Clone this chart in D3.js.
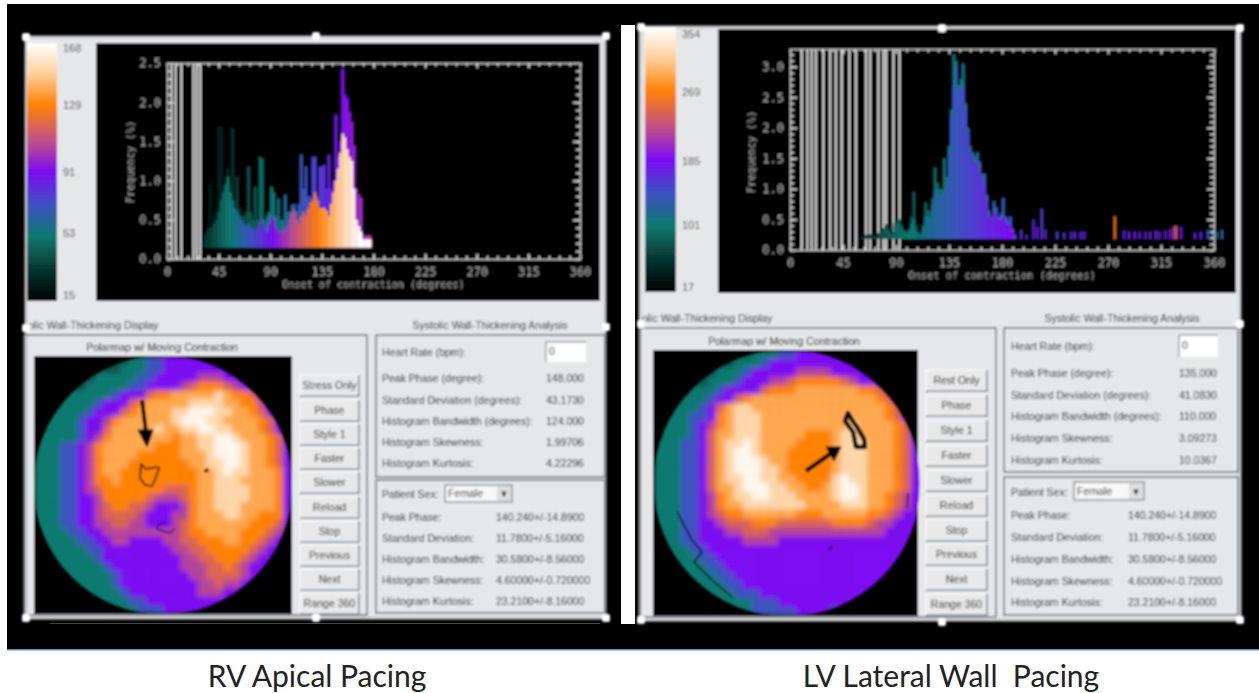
<!DOCTYPE html>
<meta charset="utf-8">
<head>
<script src="https://d3js.org/d3.v7.min.js"></script>
<style>
  body { margin: 0; background: #fff; }
  svg { display: block; }
  text { font-family: "Liberation Sans", sans-serif; }
  .idl text { font-family: "DejaVu Sans Mono", monospace; fill: #aaa; }
</style>
</head>
<body>
<div id="my_dataviz"></div>
<script>
// colour bar: position 0..1 -> colour, same for both panels
const barStops = [0, 0.12, 0.25, 0.37, 0.5, 0.62, 0.76, 0.88, 1]
const barColors = ["#000000", "#06352f", "#0a7a70", "#3d52c0", "#7d0cf2", "#c0508a", "#ff8205", "#ffcf9a", "#ffffff"]

const leftBarLabels = ["168", "129", "91", "53", "15"]
const rightBarLabels = ["354", "269", "185", "101", "17"]
const leftBarDomain = [15, 168]
const rightBarDomain = [17, 354]

const degreeTicks = [0, 45, 90, 135, 180, 225, 270, 315, 360]
const leftFreqTicks = [0, 0.5, 1, 1.5, 2, 2.5]
const rightFreqTicks = [0, 0.5, 1, 1.5, 2, 2.5, 3]

// histograms, 2 degree bins
const leftBins = d3.range(30, 178, 2)
const leftBody = [.2,.3,.35,.4,.4,.45,.5,.6,.75,.85,.95,1.05,.85,.75,.65,.6,.55,.5,.45,.42,.45,.4,.38,.35,.4,.45,.5,.4,.35,.45,.55,.5,.4,.35,.35,.32,.38,.42,.5,.6,.62,.5,.45,.55,.6,.55,.65,.72,.75,.85,.75,.65,.65,.65,.62,.55,.7,.85,1,1.15,1.35,1.6,1.55,1.4,1.3,1.25,.9,.5,.42,.35,.25,.25,.25,.25]
const leftSpike = [.3,.35,.45,.95,1,.55,.65,1.69,1.69,.9,1,1.15,.95,1.67,.75,1.05,.65,.55,.55,.6,1.18,.6,.5,.92,.5,1.3,1.28,.5,.55,.6,.92,.85,.55,.77,.5,.5,.82,.6,.6,.69,.7,.6,.7,1.33,.9,1.18,.8,.8,1.3,1.3,.8,1.18,1.18,1.2,.9,1.33,.9,1,1.84,1.3,1.5,2.43,2.1,2.05,1.88,1.75,1.45,.9,.82,.78,.3,.3,.3,.3]
const leftLines = [4, 7.5, 12.5, 23, 26, 29]

const rightBins = d3.range(60, 192, 2)
const rightBody = [.2,.2,.22,.24,.22,.22,.2,.25,.3,.33,.38,.34,.28,.25,.38,.44,.44,.35,.3,.28,.3,.42,.5,.3,.24,.22,.35,.55,.55,.55,.75,.95,1,.9,.9,.95,1.1,1.6,2.2,2.7,3,2.6,2.6,2.7,2.3,1.95,1.6,1.5,1.45,1.45,1.3,1.2,1.05,.8,.55,.5,.6,.6,.5,.5,.55,.45,.42,.4,.3,.2]
const rightSpike = [.22,.22,.25,.26,.25,.24,.22,.28,.34,.36,.42,.4,.3,.3,.45,.5,.5,.4,.32,.32,.35,.55,.95,.4,.3,.28,.42,.78,.65,.65,.85,1.35,1.1,1,1,1.5,1.2,1.7,2.3,3.2,3.1,2.7,2.8,3.05,2.4,2,1.7,1.6,1.55,1.6,1.45,1.25,1.25,.9,.65,.55,.8,.7,.55,.6,.85,.55,.5,.55,.35,.25]
const rightLines = [10, 14.8, 18.4, 22, 28.3, 34, 39, 44, 50.4, 56, 64.6, 68, 75, 79.3, 81.6, 87.8, 93]

// the isolated short bars past 190 degrees
const stickDeg = [195.5,200,206,209,213,216,226,232,238,241,246,249,275,283,287,292,296,301,305,310,313,318,322,325,327,331,343,348,354,358,362,366]
const stickVal = [.33,.25,.5,.38,.68,.33,.3,.28,.3,.3,.3,.3,.55,.32,.3,.3,.3,.3,.3,.32,.3,.32,.34,.38,.4,.38,.28,.3,.33,.33,.3,.33]
const stickTone = [.42,.45,.45,.48,.4,.45,.4,.42,.44,.44,.46,.46,.72,.46,.44,.46,.44,.46,.44,.46,.44,.46,.5,.6,.68,.5,.46,.46,.35,.35,.3,.32]

// polar maps, one digit per cell, see mapTones
const mapTones = [.17, .25, .37, .5, .6, .68, .76, .82, .9, .98]
const leftMap = [
"00000 00000 01122 33333 33222 22211",
"00000 00000 11122 33333 33332 22111",
"00000 00111 11223 33334 44333 32221",
"00000 01111 12233 33456 66543 33322",
"00011 11112 33356 67777 78766 53333",
"00011 11233 35677 77788 88776 64333",
"00111 12333 56777 78899 98877 65333",
"01111 23346 77777 78999 88777 76533",
"01111 23357 77778 77889 98877 76533",
"11111 23467 77777 76778 89987 77653",
"11122 34677 77776 66778 89998 77653",
"11122 34677 77666 66777 89998 77653",
"11122 34677 76666 66677 88998 77653",
"11122 34677 66666 66667 78988 77763",
"11122 34667 66666 66667 78887 77763",
"11122 34566 66666 55567 78888 77763",
"11122 33466 66654 44567 78888 77763",
"11122 33456 65543 33467 78887 77763",
"11122 33455 55433 34467 77887 76663",
"11122 33445 54433 34567 77777 66653",
"11112 23344 44444 44566 77776 66543",
"01111 22334 43333 44556 66776 65433",
"01111 12233 33333 34455 66666 54333",
"00111 11233 33333 33445 56665 43333",
"00111 11123 33333 33444 55654 33333",
"00011 11112 33333 33344 55554 33332",
"00001 11112 33333 33334 45443 33322",
"00000 11111 23333 33334 44333 33222",
"00000 00111 12233 33333 33333 22211",
"00000 00001 11222 33333 33322 21111"]
const rightMap = [
"00000 00000 01112 23333 33222 21110",
"00000 00001 11233 33333 33322 21110",
"00000 00111 23333 34444 33333 32211",
"00000 01112 33344 56666 65433 33322",
"00001 11233 33566 67777 77766 54333",
"00011 12335 67777 77777 77777 65333",
"00111 23578 87777 77777 77777 76533",
"01112 23678 88777 77777 77777 76533",
"01112 34678 88777 77777 77877 77653",
"01112 35778 88777 77666 78877 77653",
"11122 35788 98777 76666 78887 77653",
"11122 35789 98777 66666 78887 77653",
"11122 35789 99877 66666 78887 77653",
"11122 35789 99887 66666 78887 77653",
"11122 35788 99887 76666 89887 77653",
"11122 35778 99988 77667 89987 77653",
"11122 34678 89988 87777 89987 76543",
"11122 34677 88888 88777 78887 76543",
"11122 34566 77777 76667 77776 65433",
"11122 33455 56665 55555 66665 44333",
"11122 33344 55544 44444 44444 43333",
"11122 33333 44443 33333 33333 33332",
"01112 23333 33333 33333 33333 33332",
"01111 22333 33333 33333 33333 33322",
"01111 12233 33333 33333 33333 33322",
"00111 11223 33333 33333 33333 33222",
"00011 11122 33333 33333 33333 32221",
"00001 11112 22333 33333 33333 22211",
"00000 01111 12223 33333 33332 22111",
"00000 00011 12222 23333 22222 11111"]

const buttonsLeft = ["Stress Only", "Phase", "Style 1", "Faster", "Slower", "Reload", "Stop", "Previous", "Next", "Range 360"]
const buttonsRight = ["Rest Only", "Phase", "Style 1", "Faster", "Slower", "Reload", "Stop", "Previous", "Next", "Range 360"]

const analysisLabels = ["Peak Phase (degree):", "Standard Deviation (degrees):", "Histogram Bandwidth (degrees):", "Histogram Skewness:", "Histogram Kurtosis:"]
const analysisLeft = ["148.000", "43.1730", "124.000", "1.99706", "4.22296"]
const analysisRight = ["135.000", "41.0830", "110.000", "3.09273", "10.0367"]
const normalLabels = ["Peak Phase:", "Standard Deviation:", "Histogram Bandwidth:", "Histogram Skewness:", "Histogram Kurtosis:"]
const normalValues = ["140.240+/-14.8900", "11.7800+/-5.16000", "30.5800+/-8.56000", "4.60000+/-0.720000", "23.2100+/-8.16000"]

const colorAt = d3.scaleLinear().domain(barStops).range(barColors).clamp(true)

const svg = d3.select("#my_dataviz").append("svg")
  .attr("width", 1259)
  .attr("height", 693)

const defs = svg.append("defs")
defs.append("filter").attr("id", "soft")
  .attr("filterUnits", "userSpaceOnUse")
  .attr("x", 0).attr("y", 0).attr("width", 1259).attr("height", 693)
  .append("feGaussianBlur").attr("stdDeviation", 0.85)
defs.append("filter").attr("id", "softer")
  .attr("x", "-5%").attr("y", "-5%").attr("width", "110%").attr("height", "110%")
  .append("feGaussianBlur").attr("stdDeviation", 2.8)
const fade = defs.append("linearGradient").attr("id", "barFade")
  .attr("x1", 0).attr("y1", 1).attr("x2", 0).attr("y2", 0)
barStops.forEach((s, i) => fade.append("stop").attr("offset", s).attr("stop-color", barColors[i]))

// white page with the black picture area
svg.append("rect").attr("x", 7).attr("y", 4).attr("width", 1252).attr("height", 645).attr("fill", "#000")
svg.append("rect").attr("x", 7).attr("y", 649).attr("width", 1252).attr("height", 1.5).attr("fill", "#5b8fc0")
svg.append("rect").attr("x", 621).attr("y", 25).attr("width", 14).attr("height", 599).attr("fill", "#fff")
svg.append("rect").attr("x", 50).attr("y", 623).attr("width", 550).attr("height", 1).attr("fill", "#444")

const root = svg.append("g").attr("filter", "url(#soft)")

function drawPanel(p) {
  const g = root.append("g")

  g.append("rect")
    .attr("x", p.panel[0]).attr("y", p.panel[1])
    .attr("width", p.panel[2] - p.panel[0]).attr("height", p.panel[3] - p.panel[1])
    .attr("fill", "#e6e7e9").attr("stroke", "#c8c8c8").attr("stroke-width", 3)

  // colour bar
  g.append("rect").attr("x", p.bar[0]).attr("y", p.bar[1])
    .attr("width", p.bar[2] - p.bar[0]).attr("height", p.bar[3] - p.bar[1])
    .attr("fill", "url(#barFade)")
  g.selectAll(".barlabel").data(p.barLabels).enter().append("text")
    .attr("x", p.bar[2] + 6)
    .attr("y", (d, i) => p.barLabelY[i] + 4)
    .attr("font-size", 11).attr("fill", "#444")
    .text(d => d)

  // plot window
  g.append("rect").attr("x", p.plot[0]).attr("y", p.plot[1])
    .attr("width", p.plot[2] - p.plot[0]).attr("height", p.plot[3] - p.plot[1])
    .attr("fill", "#000")

  const x = d3.scaleLinear().domain([0, 360]).range(p.xRange)
  const y = d3.scaleLinear().domain([0, p.yMax]).range(p.yRange)
  const bw = x(2) - x(0)
  const tone = d3.scaleLinear().domain([p.barDomain[0], p.barDomain[1]]).range([0, 1])
  const chart = g.append("g").attr("class", "idl")

  chart.selectAll(".vline").data(p.lines).enter().append("line")
    .attr("x1", d => x(d)).attr("x2", d => x(d))
    .attr("y1", p.yRange[1]).attr("y2", p.yRange[0])
    .attr("stroke", "#fff").attr("stroke-width", 1.6)

  // thin dark spike behind, bright body on top
  chart.selectAll(".spike").data(p.bins).enter().append("rect")
    .attr("x", d => x(d)).attr("width", bw + 0.3)
    .attr("y", (d, i) => y(p.spike[i]))
    .attr("height", (d, i) => y(p.base) - y(p.spike[i]))
    .attr("fill", d => colorAt(tone(d * p.spikeFactor)))
  chart.selectAll(".body").data(p.bins).enter().append("rect")
    .attr("x", d => x(d)).attr("width", bw + 0.3)
    .attr("y", (d, i) => y(p.body[i]))
    .attr("height", (d, i) => y(p.base) - y(p.body[i]))
    .attr("fill", d => colorAt(tone(d)))
  if (p.stickDeg) {
    chart.selectAll(".stick").data(p.stickDeg).enter().append("rect")
      .attr("x", d => x(d)).attr("width", bw * 0.8)
      .attr("y", (d, i) => y(p.stickVal[i]))
      .attr("height", (d, i) => y(p.base) - y(p.stickVal[i]))
      .attr("fill", (d, i) => colorAt(p.stickTone[i]))
  }

  // box with ticks on all four sides
  const xMinor = d3.range(0, 361, 9)
  const yMinor = d3.range(0, p.yMax, 0.1)
  const style = s => {
    s.selectAll("path").attr("stroke", "#ccc")
    s.selectAll("line").attr("stroke", "#ddd").attr("stroke-width", 1.6)
    s.selectAll("text").attr("font-size", 12).attr("fill", "#aaa")
  }
  chart.append("g").attr("transform", `translate(0,${p.yRange[0]})`)
    .call(d3.axisBottom(x).tickValues(degreeTicks).tickSize(-5).tickPadding(8).tickFormat(d3.format("d"))).call(style)
  chart.append("g").attr("transform", `translate(0,${p.yRange[0]})`)
    .call(d3.axisBottom(x).tickValues(xMinor).tickSize(-3).tickFormat("")).call(style)
  chart.append("g").attr("transform", `translate(0,${p.yRange[1]})`)
    .call(d3.axisTop(x).tickValues(degreeTicks).tickSize(-5).tickFormat("")).call(style)
  chart.append("g").attr("transform", `translate(0,${p.yRange[1]})`)
    .call(d3.axisTop(x).tickValues(xMinor).tickSize(-3).tickFormat("")).call(style)
  chart.append("g").attr("transform", `translate(${p.xRange[0]},0)`)
    .call(d3.axisLeft(y).tickValues(p.yTicks).tickSize(-7).tickPadding(6).tickFormat(d3.format(".1f"))).call(style)
  chart.append("g").attr("transform", `translate(${p.xRange[0]},0)`)
    .call(d3.axisLeft(y).tickValues(yMinor).tickSize(-4).tickFormat("")).call(style)
  chart.append("g").attr("transform", `translate(${p.xRange[1]},0)`)
    .call(d3.axisRight(y).tickValues(p.yTicks).tickSize(-7).tickFormat("")).call(style)
  chart.append("g").attr("transform", `translate(${p.xRange[1]},0)`)
    .call(d3.axisRight(y).tickValues(yMinor).tickSize(-4).tickFormat("")).call(style)

  chart.append("text")
    .attr("x", (p.xRange[0] + p.xRange[1]) / 2).attr("y", p.yRange[0] + 29)
    .attr("text-anchor", "middle").attr("font-size", p.titleSize)
    .text("Onset of contraction (degrees)")
  chart.append("text")
    .attr("transform", `translate(${p.yLabelX},${p.yLabelY}) rotate(-90)`)
    .attr("text-anchor", "middle").attr("font-size", 10.5)
    .text("Frequency (%)")

  // section headings and group boxes
  g.append("text").attr("x", p.panel[0] + 2).attr("y", p.headY).attr("font-size", 10.5).attr("fill", "#222")
    .text("olic Wall-Thickening Display")
  g.append("text").attr("x", p.headRightX).attr("y", p.headY).attr("text-anchor", "middle").attr("font-size", 10.5).attr("fill", "#222")
    .text("Systolic Wall-Thickening Analysis")
  p.boxes.forEach(b => {
    g.append("rect").attr("x", b[0]).attr("y", b[1]).attr("width", b[2] - b[0]).attr("height", b[3] - b[1])
      .attr("fill", "none").attr("stroke", "#6f7478").attr("stroke-width", 1.6)
  })
  g.append("text").attr("x", p.mapTitleX).attr("y", p.mapTitleY).attr("text-anchor", "middle").attr("font-size", 10.5).attr("fill", "#111")
    .text("Polarmap w/ Moving Contraction")

  // polar map
  const m = p.map
  g.append("rect").attr("x", m.x0).attr("y", m.y0).attr("width", m.x1 - m.x0).attr("height", m.y1 - m.y0).attr("fill", "#000")
  const clipId = "disc" + p.id
  defs.append("clipPath").attr("id", clipId).append("circle").attr("cx", m.cx).attr("cy", m.cy).attr("r", m.r)
  const col = d3.scaleBand().domain(d3.range(30)).range([m.cx - m.r, m.cx + m.r])
  const row = d3.scaleBand().domain(d3.range(30)).range([m.cy - m.r, m.cy + m.r])
  const cellData = []
  p.cells.forEach((s, r) => s.replace(/ /g, "").split("").forEach((c, i) => cellData.push({ r: r, c: i, v: +c })))
  g.append("g").attr("clip-path", `url(#${clipId})`)
    .append("g").attr("filter", "url(#softer)")
    .selectAll("rect").data(cellData).enter().append("rect")
    .attr("x", d => col(d.c)).attr("y", d => row(d.r))
    .attr("width", col.bandwidth() + 0.5).attr("height", row.bandwidth() + 0.5)
    .attr("fill", d => colorAt(mapTones[d.v]))

  // hand drawn marks on the map
  const lineGen = d3.line()
  p.marks.forEach(k => {
    g.append("path").attr("d", lineGen(k.pts) + (k.close ? "Z" : ""))
      .attr("fill", k.fill || "none").attr("stroke", k.color || "#000").attr("stroke-width", k.w)
      .attr("stroke-linejoin", "round")
  })

  // buttons
  const btn = g.selectAll(".btn").data(p.buttons).enter().append("g")
    .attr("transform", (d, i) => `translate(${p.btnX},${p.btnY[i] - 10})`)
  btn.append("rect").attr("width", p.btnW).attr("height", 20).attr("fill", "#e8e8e8")
    .attr("stroke", "#fff").attr("stroke-width", 1)
  btn.append("path").attr("d", `M0,21H${p.btnW}V0`).attr("fill", "none").attr("stroke", "#80858a").attr("stroke-width", 1.6)
  btn.append("text").attr("x", p.btnW / 2).attr("y", 14).attr("text-anchor", "middle")
    .attr("font-size", 10.5).attr("fill", "#222").text(d => d)

  // analysis box
  g.append("text").attr("x", p.labelX).attr("y", p.heartY + 4).attr("font-size", 10.5).attr("fill", "#222").text("Heart Rate (bpm):")
  g.append("rect").attr("x", p.input[0]).attr("y", p.input[1]).attr("width", p.input[2] - p.input[0]).attr("height", p.input[3] - p.input[1])
    .attr("fill", "#fff")
  g.append("path").attr("d", `M${p.input[0]},${p.input[3]}V${p.input[1]}H${p.input[2]}`).attr("fill", "none").attr("stroke", "#777")
  g.append("text").attr("x", p.input[0] + 3).attr("y", p.heartY + 3).attr("font-size", 10.5).attr("fill", "#222").text("0")
  g.selectAll(".alabel").data(analysisLabels).enter().append("text")
    .attr("x", p.labelX).attr("y", (d, i) => p.analysisY[i] + 4)
    .attr("font-size", 10.5).attr("fill", "#222").text(d => d)
  g.selectAll(".avalue").data(p.analysis).enter().append("text")
    .attr("x", p.input[0]).attr("y", (d, i) => p.analysisY[i] + 4)
    .attr("font-size", 10.5).attr("fill", "#222").text(d => d)

  // normal limits box
  g.append("text").attr("x", p.labelX).attr("y", p.sexY + 4).attr("font-size", 10.5).attr("fill", "#222").text("Patient Sex:")
  g.append("rect").attr("x", p.select[0]).attr("y", p.select[1]).attr("width", p.select[2] - p.select[0]).attr("height", p.select[3] - p.select[1])
    .attr("fill", "#f7f7f7").attr("stroke", "#666")
  g.append("text").attr("x", p.select[0] + 3).attr("y", p.sexY + 3).attr("font-size", 10.5).attr("fill", "#222").text("Female")
  g.append("rect").attr("x", p.select[2] - 15).attr("y", p.select[1] + 1).attr("width", 14).attr("height", p.select[3] - p.select[1] - 2).attr("fill", "#ddd")
  g.append("text").attr("x", p.select[2] - 8).attr("y", p.sexY + 3).attr("text-anchor", "middle").attr("font-size", 9).attr("fill", "#000").text("▼")
  g.selectAll(".nlabel").data(normalLabels).enter().append("text")
    .attr("x", p.labelX).attr("y", (d, i) => p.normalY[i] + 4)
    .attr("font-size", 10.5).attr("fill", "#222").text(d => d)
  g.selectAll(".nvalue").data(normalValues).enter().append("text")
    .attr("x", p.normalX).attr("y", (d, i) => p.normalY[i] + 4)
    .attr("font-size", 10.5).attr("fill", "#222").text(d => d)

  // selection handles
  g.selectAll(".handle").data(p.handles).enter().append("rect")
    .attr("x", d => d[0] - 4).attr("y", d => d[1] - 4).attr("width", 8).attr("height", 8)
    .attr("rx", 2).attr("fill", "#fff")
}

drawPanel({
  id: "L",
  panel: [26, 37, 605, 618],
  bar: [27, 43, 57, 301],
  barLabels: leftBarLabels, barLabelY: [48, 105, 172, 233, 295], barDomain: leftBarDomain,
  plot: [96, 43, 600, 301],
  xRange: [167, 580], yRange: [259, 63], yMax: 2.5, yTicks: leftFreqTicks, base: 0.145,
  bins: leftBins, body: leftBody, spike: leftSpike, lines: leftLines, spikeFactor: 0.6,
  titleSize: 10.1, yLabelX: 134, yLabelY: 162,
  headY: 329, headRightX: 490,
  boxes: [[24, 335, 367, 615], [376, 335, 605, 477], [376, 480, 605, 613]],
  mapTitleX: 162, mapTitleY: 351,
  map: { x0: 34, y0: 356, x1: 292, y1: 614, cx: 163, cy: 485, r: 129 },
  cells: leftMap,
  marks: [
    { pts: [[142, 400], [146, 432]], w: 4 },
    { pts: [[138, 430], [153, 430], [147, 447]], w: 1, close: true, fill: "#000" },
    { pts: [[141, 464], [146, 469], [157, 467], [159, 468], [155, 480], [152, 486], [145, 485], [140, 478]], w: 1.6, close: true },
    { pts: [[166, 522], [158, 525], [157, 529], [163, 531], [170, 533], [174, 529]], w: 1.4, color: "#3a0a70" },
    { pts: [[206, 469], [207, 472]], w: 4 }
  ],
  buttons: buttonsLeft, btnX: 300, btnW: 59, btnY: [385, 410, 434, 458, 482, 507, 531, 555, 579, 603],
  labelX: 382, heartY: 352, input: [546, 342, 586, 362],
  analysis: analysisLeft, analysisY: [378, 400, 421, 442, 463],
  sexY: 494, select: [445, 485, 512, 502],
  normalX: 496, normalY: [517, 538, 559, 580, 601],
  handles: [[26, 37], [316, 36], [606, 36], [26, 328], [606, 327], [26, 618], [316, 618], [606, 618]]
})

drawPanel({
  id: "R",
  panel: [640, 27, 1240, 620],
  bar: [645, 27, 676, 292],
  barLabels: rightBarLabels, barLabelY: [34, 92, 161, 225, 287], barDomain: rightBarDomain,
  plot: [718, 29, 1236, 293],
  xRange: [790, 1214], yRange: [250, 49], yMax: 3.29, yTicks: rightFreqTicks, base: 0.18,
  bins: rightBins, body: rightBody, spike: rightSpike, lines: rightLines, spikeFactor: 0.75,
  stickDeg: stickDeg, stickVal: stickVal, stickTone: stickTone,
  titleSize: 10.4, yLabelX: 755, yLabelY: 152,
  headY: 322, headRightX: 1122,
  boxes: [[640, 328, 996, 617], [1004, 328, 1238, 472], [1004, 477, 1238, 615]],
  mapTitleX: 784, mapTitleY: 345,
  map: { x0: 653, y0: 350, x1: 918, y1: 616, cx: 787, cy: 483, r: 133 },
  cells: rightMap,
  marks: [
    { pts: [[806, 471], [830, 454]], w: 4.5 },
    { pts: [[826, 447], [841, 447], [834, 461]], w: 1, close: true, fill: "#000" },
    { pts: [[848, 413], [845, 421], [853, 432], [856, 447], [865, 447], [864, 439], [857, 427], [852, 420]], w: 4.5, close: true },
    { pts: [[677, 512], [692, 540], [702, 552], [694, 562], [712, 580], [733, 598]], w: 1.6, color: "#140a3a" },
    { pts: [[908, 493], [907, 508]], w: 1.4, color: "#140a3a" },
    { pts: [[830, 547], [831, 549]], w: 5, color: "#180a40" }
  ],
  buttons: buttonsRight, btnX: 926, btnW: 61, btnY: [380, 405, 430, 455, 480, 505, 530, 554, 579, 604],
  labelX: 1011, heartY: 346, input: [1179, 335, 1218, 357],
  analysis: analysisRight, analysisY: [373, 395, 416, 438, 460],
  sexY: 492, select: [1074, 482, 1144, 500],
  normalX: 1128, normalY: [515, 537, 559, 581, 602],
  handles: [[641, 27], [942, 28], [1240, 28], [641, 324], [1240, 324], [641, 620], [942, 622], [1240, 620]]
})

// captions under the picture
const captions = ["RV Apical Pacing", "LV Lateral Wall  Pacing"]
svg.selectAll(".caption").data(captions).enter().append("text")
  .attr("x", (d, i) => [317, 951][i])
  .attr("y", 687)
  .attr("text-anchor", "middle")
  .style("white-space", "pre")
  .style("font-family", "Lato, sans-serif")
  .attr("font-size", 30)
  .attr("fill", "#222")
  .text(d => d)
</script>
</body>
